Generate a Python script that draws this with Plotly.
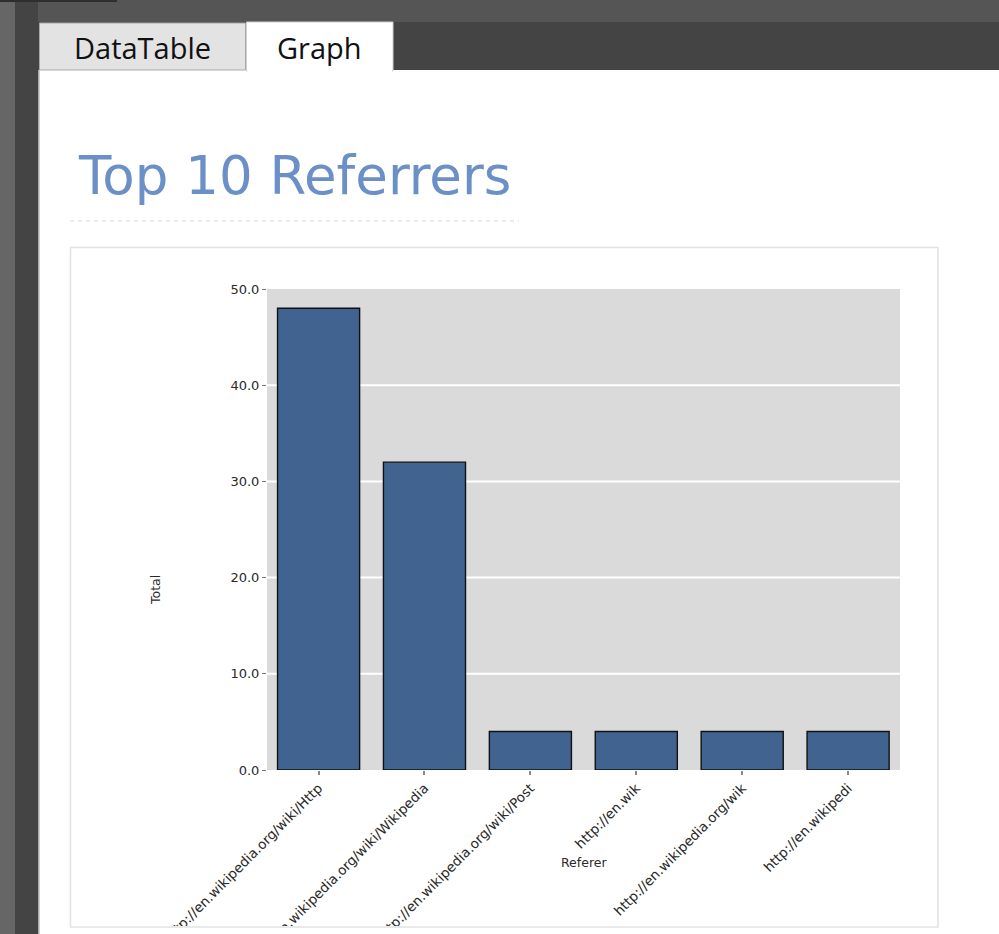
import plotly.graph_objects as go

# ---- data ----
referers = [
    "http://en.wikipedia.org/wiki/Http",
    "http://en.wikipedia.org/wiki/Wikipedia",
    "http://en.wikipedia.org/wiki/Post",
    "http://en.wik",
    "http://en.wikipedia.org/wik",
    "http://en.wikipedi",
]
totals = [48, 32, 4, 4, 4, 4]
y_ticks = [0, 10, 20, 30, 40, 50]
grid_vals = [10, 20, 30, 40]

W, H = 999, 934
L, R, T, B = 267, 900, 289, 770  # plot area in pixels


def px(x):
    return (x - L) / (R - L)


def py(y):
    return (B - y) / (B - T)


Y_FONT = dict(family="DejaVu Sans, Verdana, sans-serif", size=13, color="#2a2a2a")
X_FONT = dict(family="DejaVu Sans, Verdana, sans-serif", size=13.5, color="#2a2a2a")
LBL_FONT = dict(family="DejaVu Sans, Verdana, sans-serif", size=12.5, color="#2a2a2a")

fig = go.Figure()
fig.add_trace(go.Bar(
    x=list(range(len(referers))),
    y=totals,
    width=0.775,
    marker=dict(color="#416390", line=dict(color="#111111", width=1.4)),
    hoverinfo="skip",
))

shapes = []
# gridlines
for g in grid_vals:
    shapes.append(dict(type="line", xref="paper", yref="y", x0=0, x1=1, y0=g, y1=g,
                       line=dict(color="white", width=2), layer="below"))


def rect(x0, y0, x1, y1, fill, line_color=None, lw=0):
    return dict(type="rect", xref="paper", yref="paper",
                x0=px(x0), x1=px(x1), y0=py(y1), y1=py(y0),
                fillcolor=fill,
                line=dict(color=line_color or fill, width=lw),
                layer="above")


# clip rotated labels at chart box bottom
shapes.append(rect(39, 926, 999, 934, "white"))
# chart box
shapes.append(dict(type="rect", xref="paper", yref="paper",
                   x0=px(70.5), x1=px(938), y0=py(927), y1=py(247.5),
                   fillcolor="rgba(0,0,0,0)", line=dict(color="#e2e2e2", width=1.5),
                   layer="above"))
# dashed rule under title
shapes.append(dict(type="line", xref="paper", yref="paper",
                   x0=px(70), x1=px(519), y0=py(221), y1=py(221),
                   line=dict(color="#d6d6d6", width=1, dash="4px,4px"), layer="above"))
# window frame
shapes.append(rect(38, 0, 999, 22, "#555555"))
shapes.append(rect(38, 22, 999, 70, "#444444"))
shapes.append(rect(0, 0, 15, 934, "#666666"))
shapes.append(rect(15, 0, 38, 934, "#444444"))
shapes.append(rect(0, 0, 117, 2, "#2e2e2e"))
shapes.append(rect(38, 70, 39.5, 934, "#a8a8a8"))
# tabs
shapes.append(rect(39.5, 23, 245.5, 70, "#e3e3e3", "#a9a9a9", 1))
shapes.append(rect(246.5, 22, 393, 71, "white", "#cfcfcf", 1))
shapes.append(rect(247.5, 69, 392, 72, "white"))

annotations = [
    dict(text="DataTable", x=px(142), y=py(47), xref="paper", yref="paper",
         showarrow=False, xanchor="center", yanchor="middle",
         font=dict(family="Open Sans, Noto Sans, sans-serif", size=29, color="#111111")),
    dict(text="Graph", x=px(319), y=py(47), xref="paper", yref="paper",
         showarrow=False, xanchor="center", yanchor="middle",
         font=dict(family="Open Sans, Noto Sans, sans-serif", size=29, color="#111111")),
    dict(text="Top 10 Referrers", x=px(76), y=py(175), xref="paper", yref="paper",
         showarrow=False, xanchor="left", yanchor="middle",
         font=dict(family="DejaVu Sans, Verdana, sans-serif", size=53, color="#6b8fc7")),
    dict(text="Total", x=px(155), y=py(590), xref="paper", yref="paper",
         showarrow=False, xanchor="center", yanchor="middle", textangle=-90,
         font=LBL_FONT),
    dict(text="Referer", x=px(584), y=py(862), xref="paper", yref="paper",
         showarrow=False, xanchor="center", yanchor="middle",
         font=LBL_FONT),
]

fig.update_layout(
    template="none",
    width=W, height=H,
    margin=dict(l=L, r=W - R, t=T, b=H - B, pad=0),
    paper_bgcolor="white",
    plot_bgcolor="#dadada",
    showlegend=False,
    bargap=0.2,
    shapes=shapes,
    annotations=annotations,
    xaxis=dict(
        range=[-0.487, 5.49],
        tickmode="array",
        tickvals=list(range(len(referers))),
        ticktext=referers,
        tickangle=-45,
        ticks="outside", ticklen=4, tickwidth=1.5, tickcolor="#888888",
        showgrid=False, zeroline=False, showline=False,
        automargin=False,
        tickfont=X_FONT,
        fixedrange=True,
    ),
    yaxis=dict(
        range=[0, 50],
        tickmode="array",
        tickvals=y_ticks,
        ticktext=[f"{v:.1f}" for v in y_ticks],
        ticks="outside", ticklen=4, tickwidth=1, tickcolor="#777777",
        showgrid=False, zeroline=False, showline=False,
        automargin=False,
        tickfont=Y_FONT,
        fixedrange=True,
    ),
)

fig.write_html(
    "out.html",
    config={"displayModeBar": False},
    post_script="document.body.style.margin='0';document.body.style.overflow='hidden';",
)
